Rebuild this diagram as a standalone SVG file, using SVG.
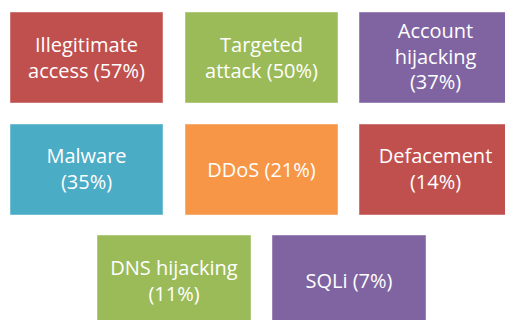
<svg xmlns="http://www.w3.org/2000/svg" width="505" height="320" viewBox="0 0 505 320">
<style>
.b{stroke:#ffffff;stroke-opacity:0.45;stroke-width:1}
.t{font-family:"Open Sans","Liberation Sans",Arial,sans-serif;font-size:20px;fill:#ffffff;text-anchor:middle}
.red{fill:#C0504D}.green{fill:#9BBB59}.purple{fill:#8064A2}.teal{fill:#4BACC6}.orange{fill:#F79646}
</style>
<rect width="505" height="320" fill="#ffffff"/>
<g id="connectors"/>
<g id="illegitimate"><rect class="b red" x="10" y="12" width="153" height="91"/><text class="t" x="86.5" y="52">Illegitimate</text><text class="t" x="86.5" y="78">access (57%)</text></g>
<g id="targeted"><rect class="b green" x="185" y="12" width="153" height="91"/><text class="t" x="261.5" y="52">Targeted</text><text class="t" x="261.5" y="78">attack (50%)</text></g>
<g id="account"><rect class="b purple" x="359" y="12" width="153" height="91"/><text class="t" x="435.5" y="38">Account</text><text class="t" x="435.5" y="63.5">hijacking</text><text class="t" x="435.5" y="89">(37%)</text></g>
<g id="malware"><rect class="b teal" x="10" y="124" width="153" height="91"/><text class="t" x="86.5" y="163">Malware</text><text class="t" x="86.5" y="189">(35%)</text></g>
<g id="ddos"><rect class="b orange" x="185" y="124" width="153" height="91"/><text class="t" x="261.5" y="177">DDoS (21%)</text></g>
<g id="defacement"><rect class="b red" x="359" y="124" width="153" height="91"/><text class="t" x="435.5" y="163">Defacement</text><text class="t" x="435.5" y="189">(14%)</text></g>
<g id="dns"><rect class="b green" x="97" y="235" width="154" height="91"/><text class="t" x="174" y="275">DNS hijacking</text><text class="t" x="174" y="301">(11%)</text></g>
<g id="sqli"><rect class="b purple" x="272" y="235" width="154" height="91"/><text class="t" x="349" y="288">SQLi (7%)</text></g>
</svg>
